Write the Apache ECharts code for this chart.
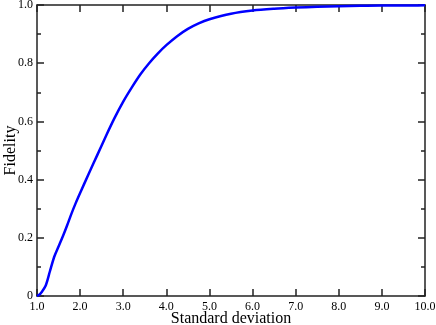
<!DOCTYPE html>
<html>
<head>
<meta charset="utf-8">
<script src="https://cdn.jsdelivr.net/npm/echarts@6/dist/echarts.min.js"></script>
<style>
html,body{margin:0;padding:0;background:#fff;}
#c{width:436px;height:325px;}
</style>
</head>
<body>
<div id="c"></div>
<script>
const stdDev = [1.0,1.05,1.1,1.2,1.3,1.4,1.5,1.6,1.7,1.8,1.9,2.0,2.2,2.4,2.6,2.8,3.0,3.2,3.4,3.6,3.8,4.0,4.25,4.5,4.75,5.0,5.5,6.0,6.5,7.0,7.5,8.0,8.5,9.0,9.5,10.0];
const fidelity = [0,0.004,0.012,0.035,0.085,0.135,0.17,0.205,0.243,0.283,0.32,0.354,0.42,0.485,0.55,0.612,0.668,0.717,0.762,0.80,0.833,0.862,0.893,0.918,0.937,0.951,0.970,0.981,0.987,0.991,0.994,0.996,0.997,0.998,0.998,0.999];
const xTitle = 'Standard deviation';
const yTitle = 'Fidelity';

const font = "'Liberation Serif','DejaVu Serif','Times New Roman',serif";
const axisLineStyle = {color:'#222', width:1.5};
const chart = echarts.init(document.getElementById('c'), null, {renderer:'canvas'});
chart.setOption({
  animation:false,
  backgroundColor:'#fff',
  grid:{left:37, right:11, top:5, bottom:29, containLabel:false, outerBoundsMode:'none'},
  xAxis:[{
    type:'value', min:1, max:10, interval:1, position:'bottom',
    axisLine:{show:true, onZero:false, lineStyle:axisLineStyle},
    axisTick:{show:true, inside:true, length:7, lineStyle:axisLineStyle},
    splitLine:{show:false},
    axisLabel:{show:true, margin:5, color:'#000', fontFamily:font, fontSize:12, formatter:v=>v.toFixed(1)},
    name:xTitle, nameLocation:'middle', nameGap:15, nameMoveOverlap:false,
    nameTextStyle:{color:'#000', fontFamily:font, fontSize:16}
  },{
    type:'value', min:1, max:10, interval:1, position:'top',
    axisLine:{show:true, onZero:false, lineStyle:axisLineStyle},
    axisTick:{show:true, inside:true, length:7, lineStyle:axisLineStyle},
    splitLine:{show:false}, axisLabel:{show:false}
  }],
  yAxis:[{
    type:'value', min:0, max:1, interval:0.2, position:'left',
    axisLine:{show:true, onZero:false, lineStyle:axisLineStyle},
    axisTick:{show:true, inside:true, length:7, lineStyle:axisLineStyle},
    minorTick:{show:true, splitNumber:2, length:4, lineStyle:axisLineStyle},
    splitLine:{show:false}, minorSplitLine:{show:false},
    axisLabel:{show:true, margin:4, color:'#000', fontFamily:font, fontSize:12, formatter:v=>v===0?'0':v.toFixed(1)},
    name:yTitle, nameLocation:'middle', nameGap:18, nameMoveOverlap:false,
    nameTextStyle:{color:'#000', fontFamily:font, fontSize:16}
  },{
    type:'value', min:0, max:1, interval:0.2, position:'right',
    axisLine:{show:true, onZero:false, lineStyle:axisLineStyle},
    axisTick:{show:true, inside:true, length:7, lineStyle:axisLineStyle},
    minorTick:{show:true, splitNumber:2, length:4, lineStyle:axisLineStyle},
    splitLine:{show:false}, axisLabel:{show:false}
  }],
  series:[{
    type:'line', xAxisIndex:0, yAxisIndex:0,
    data: stdDev.map((x,i)=>[x, fidelity[i]]),
    showSymbol:false, smooth:0.3,
    lineStyle:{color:'#0000ff', width:2.5},
    z:1
  }]
});
</script>
</body>
</html>
